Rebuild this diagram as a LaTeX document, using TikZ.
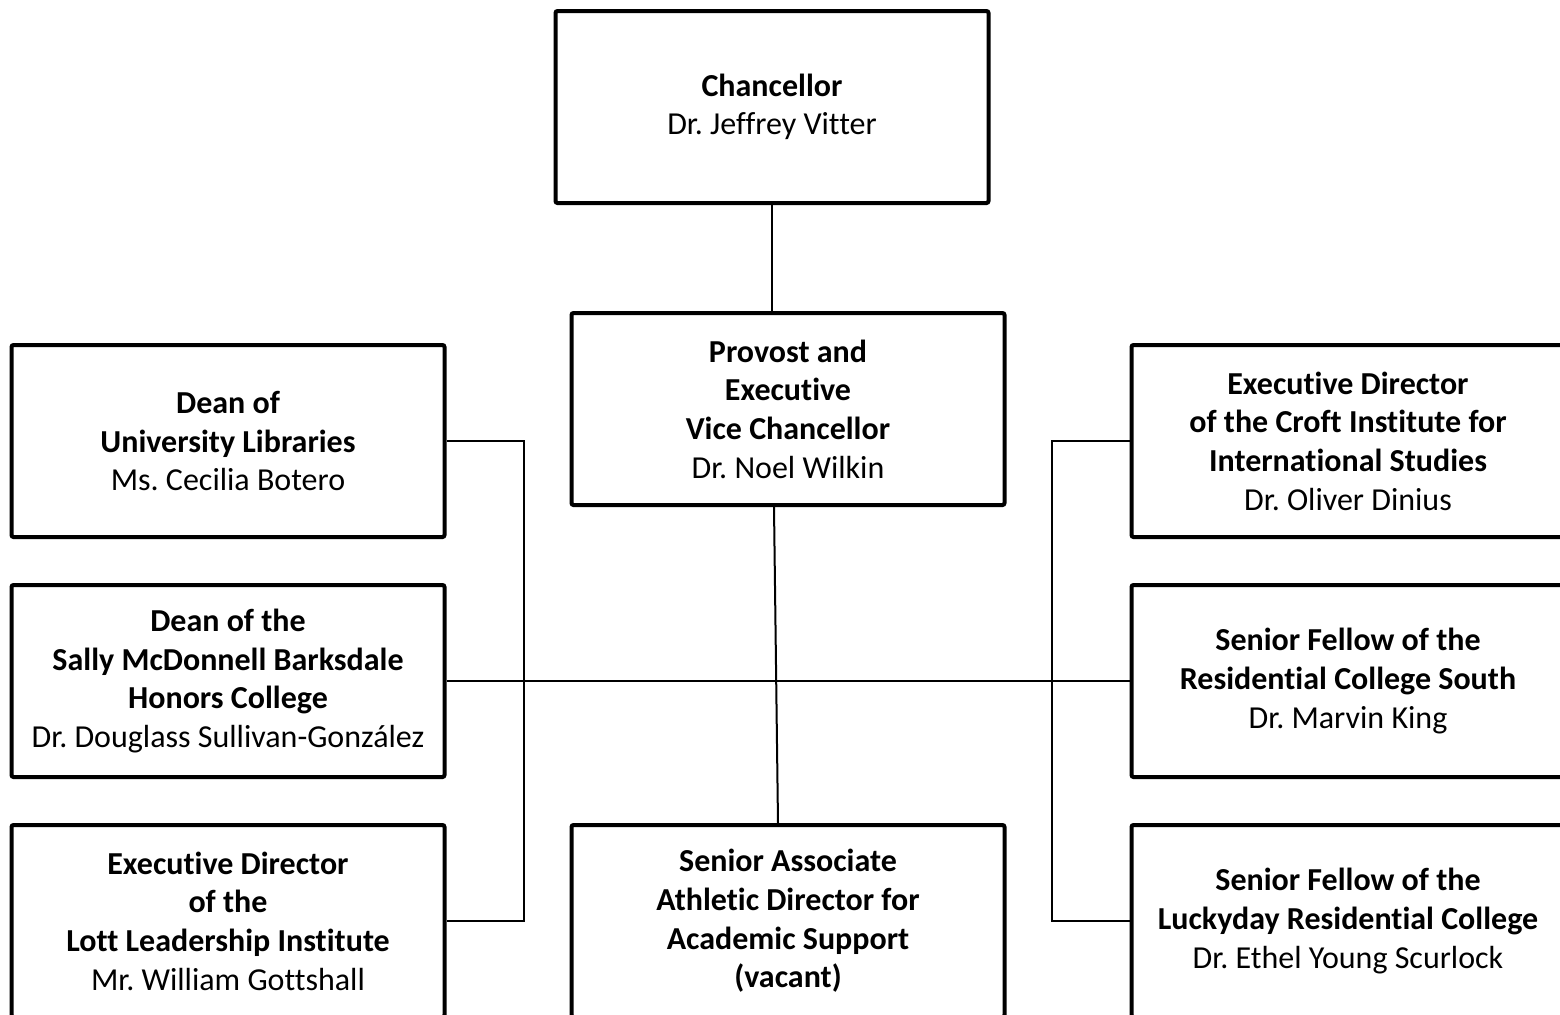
\documentclass[tikz,border=0pt]{standalone}
\usepackage{fontspec}
\setmainfont[Ligatures={NoCommon,TeX}]{Carlito}
\usepackage{tikz}
\frenchspacing

\tikzset{
  post/.style={draw, line width=2pt, rounded corners=1pt, align=center,
    minimum width=216.5pt, minimum height=96pt, inner sep=0pt,
    font=\fontsize{16}{19.3}\selectfont},
  link/.style={line width=1pt}
}

\begin{document}
\begin{tikzpicture}[x=0.5pt, y=-0.5pt]
\useasboundingbox (0,0) rectangle (1560,1014);

\node[post] (chancellor) at (772,107) {\textbf{Chancellor}\\Dr. Jeffrey Vitter};
\node[post] (provost) at (788,409) {\textbf{Provost and}\\\textbf{Executive}\\\textbf{Vice Chancellor}\\Dr. Noel Wilkin};
\node[post] (athletic) at (788,921) {\textbf{Senior Associate}\\\textbf{Athletic Director for}\\\textbf{Academic Support}\\\textbf{(vacant)}};

\node[post] (libraries) at (228,441) {\textbf{Dean of}\\\textbf{University Libraries}\\Ms. Cecilia Botero};
\node[post] (honors) at (228,681) {\textbf{Dean of the}\\\textbf{Sally McDonnell Barksdale}\\\textbf{Honors College}\\Dr. Douglass Sullivan-González};
\node[post] (lott) at (228,921) {\textbf{Executive Director}\\\textbf{of the}\\\textbf{Lott Leadership Institute}\\Mr. William Gottshall};

\node[post] (croft) at (1348,441) {\textbf{Executive Director}\\\textbf{of the Croft Institute for}\\\textbf{International Studies}\\Dr. Oliver Dinius};
\node[post] (south) at (1348,681) {\textbf{Senior Fellow of the}\\\textbf{Residential College South}\\Dr. Marvin King};
\node[post] (luckyday) at (1348,921) {\textbf{Senior Fellow of the}\\\textbf{Luckyday Residential College}\\Dr. Ethel Young Scurlock};

\coordinate (leftbus) at (524,681);
\coordinate (rightbus) at (1052,681);

\draw[link] (chancellor.south) -- (chancellor.south |- provost.north);
\draw[link] ([xshift=-7pt]provost.south) -- ([xshift=-5pt]athletic.north);
\draw[link] (honors.east) -- (south.west);
\draw[link] (libraries.east) -| (leftbus) |- (lott.east);
\draw[link] (croft.west) -| (rightbus) |- (luckyday.west);
\end{tikzpicture}
\end{document}
